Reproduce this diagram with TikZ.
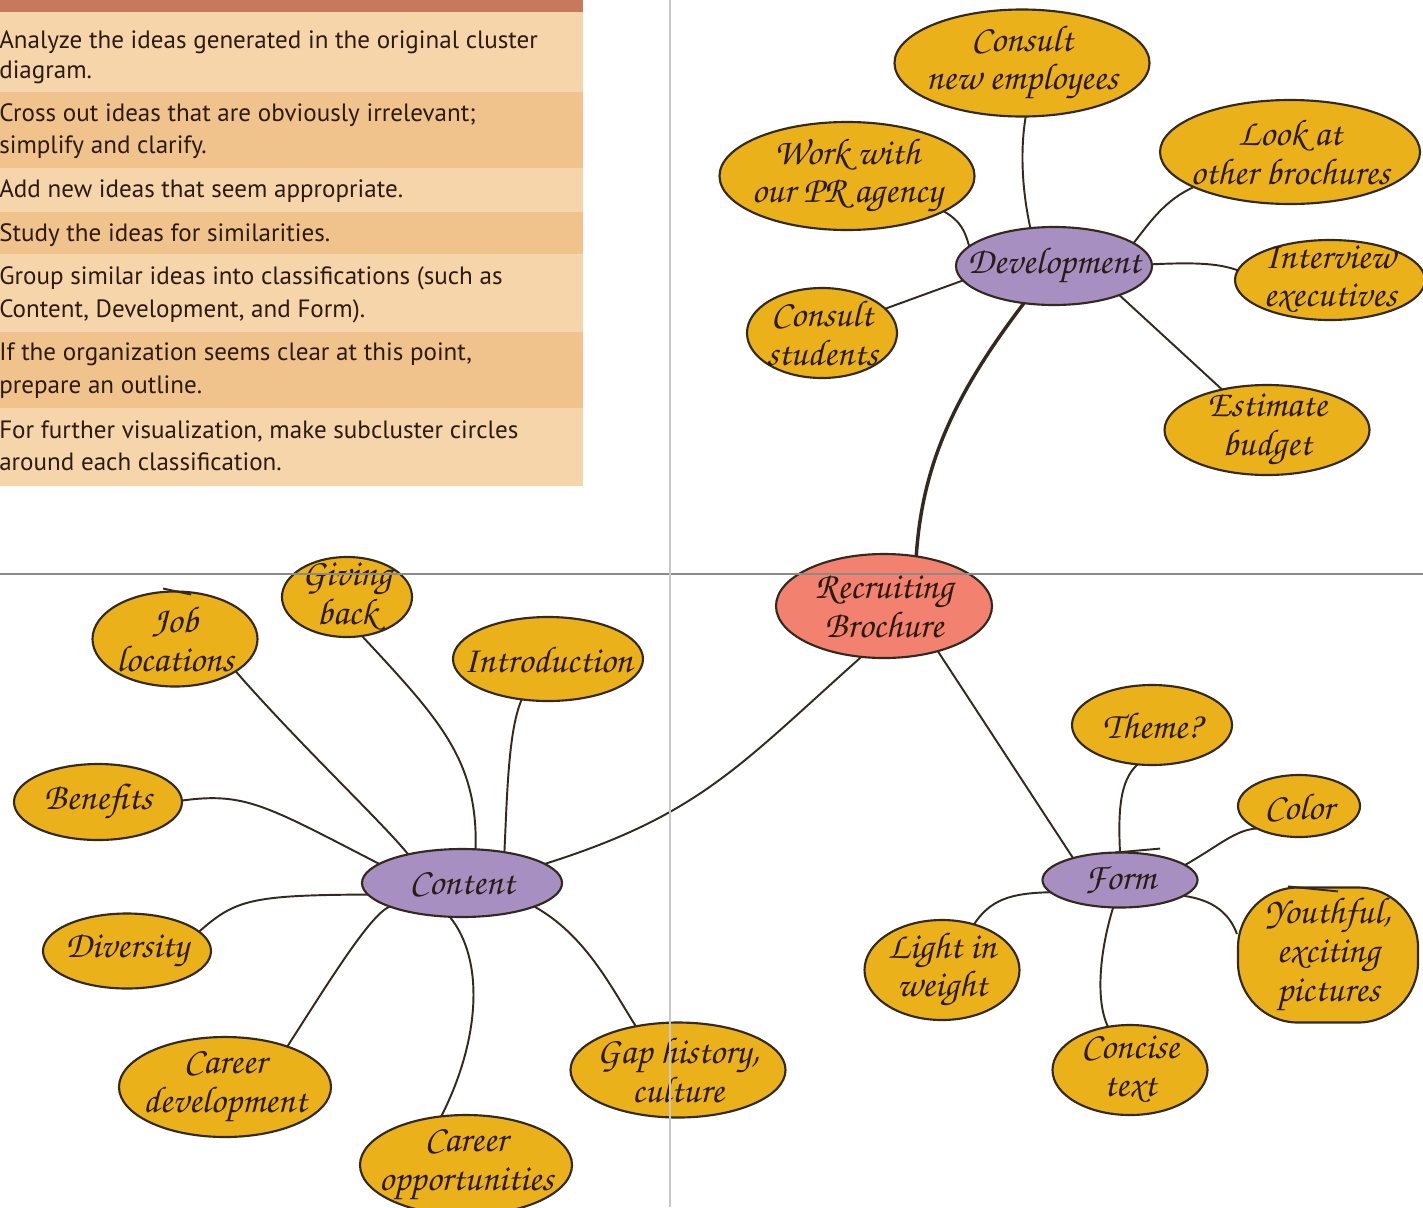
\documentclass[tikz,border=0pt]{standalone}
\usepackage[T1]{fontenc}
\usepackage{fontspec}
\newfontfamily\tabfont{PT Sans}
\newcommand\handfont{\fontencoding{T1}\fontfamily{pzc}\fontseries{mb}\fontshape{it}\selectfont}
\usetikzlibrary{shapes.geometric}
\definecolor{leafc}{HTML}{EBB11A}
\definecolor{catc}{HTML}{A78FC2}
\definecolor{rootc}{HTML}{F2826F}
\definecolor{edgec}{HTML}{33291F}
\definecolor{ink}{HTML}{2B1B12}
\definecolor{barc}{HTML}{C6795D}
\definecolor{rowA}{HTML}{F7D5AA}
\definecolor{rowB}{HTML}{F0C28C}
\definecolor{hrule}{HTML}{8A8A8A}
\definecolor{vrule}{HTML}{C8C8C8}
\pgfdeclarelayer{bg}
\pgfsetlayers{bg,main}
\tikzset{
  sz/.style 2 args={minimum width=#1*0.75pt, minimum height=#2*0.75pt},
  blob/.style={ellipse, draw=edgec, line width=1.6pt, inner sep=0pt, outer sep=0pt},
  leaf/.style={blob, fill=leafc},
  cat/.style={blob, fill=catc},
  root/.style={blob, fill=rootc},
  hand/.style={font=\handfont\fontsize{28}{29}\selectfont, text=ink, align=center, inner sep=0pt},
  link/.style={draw=edgec, line width=1.45pt},
  tabtxt/.style={font=\tabfont\fontsize{18.8}{22}\selectfont, text=ink, anchor=mid west, inner sep=0pt}
}
\begin{document}
\begin{tikzpicture}[x=0.75pt,y=-0.75pt]
\useasboundingbox (0,0) rectangle (1423,1207);
% ---- table ----
\fill[rowA] (0,12) rectangle (583,92);
\fill[rowB] (0,92) rectangle (583,168);
\fill[rowA] (0,168) rectangle (583,212);
\fill[rowB] (0,212) rectangle (583,254);
\fill[rowA] (0,254) rectangle (583,332);
\fill[rowB] (0,332) rectangle (583,408);
\fill[rowA] (0,408) rectangle (583,486);
\fill[barc] (0,0) rectangle (583,12);
\node[tabtxt] (t1a) at (-1,46) {Analyze the ideas generated in the original cluster};
\node[tabtxt] (t1b) at (-1,76) {diagram.};
\node[tabtxt] (t2a) at (-1,119) {Cross out ideas that are obviously irrelevant;};
\node[tabtxt] (t2b) at (-1,151) {simplify and clarify.};
\node[tabtxt] (t3) at (-1,195) {Add new ideas that seem appropriate.};
\node[tabtxt] (t4) at (-1,239) {Study the ideas for similarities.};
\node[tabtxt] (t5a) at (-1,282) {Group similar ideas into classifications (such as};
\node[tabtxt] (t5b) at (-1,315) {Content, Development, and Form).};
\node[tabtxt] (t6a) at (-1,358) {If the organization seems clear at this point,};
\node[tabtxt] (t6b) at (-1,391) {prepare an outline.};
\node[tabtxt] (t7a) at (-1,436) {For further visualization, make subcluster circles};
\node[tabtxt] (t7b) at (-1,468) {around each classification.};
% ---- nodes ----
\node[root, sz={216}{104}, label={[hand]center:{Recruiting\\Brochure}}] (bro) at (884,606) {};
\node[cat, sz={196}{78}, label={[hand]center:{Development}}] (dev) at (1054,266) {};
\node[cat, sz={200}{68}, label={[hand]center:{Content}}] (con) at (462,883) {};
\node[cat, sz={155}{55}, label={[hand]center:{Form}}] (form) at (1120,880) {};
% development leaves
\node[leaf, sz={255}{107}, label={[hand]center:{Consult\\new employees}}] (emp) at (1022,63) {};
\node[leaf, sz={255}{108}, label={[hand]center:{Work with\\our PR agency}}] (pr) at (847,176) {};
\node[leaf, sz={260}{104}, label={[hand]center:{Look at\\other brochures}}] (look) at (1290,152) {};
\node[leaf, sz={190}{80}, label={[hand]center:{Interview\\executives}}] (intv) at (1330,280) {};
\node[leaf, sz={150}{90}, label={[hand]center:{Consult\\students}}] (stu) at (822,333) {};
\node[leaf, sz={205}{90}, label={[hand]center:{Estimate\\budget}}] (est) at (1267,430) {};
% content leaves
\node[leaf, sz={165}{95}, label={[hand]center:{Job\\locations}}] (job) at (175,639) {};
\node[leaf, sz={130}{80}, label={[hand]center:{Giving\\back}}] (giv) at (347,597) {};
\node[leaf, sz={190}{84}, label={[hand]center:{Introduction}}] (intro) at (548,659) {};
\node[leaf, sz={168}{76}, label={[hand]center:{Benefits}}] (ben) at (98,802) {};
\node[leaf, sz={168}{75}, label={[hand]center:{Diversity}}] (div) at (127,951) {};
\node[leaf, sz={212}{100}, label={[hand]center:{Career\\development}}] (cdev) at (225,1087) {};
\node[leaf, sz={212}{100}, label={[hand]center:{Career\\opportunities}}] (copp) at (466,1165) {};
\node[leaf, sz={215}{95}, label={[hand]center:{Gap history,\\culture}}] (gap) at (678,1070) {};
% form leaves
\node[leaf, sz={160}{80}, label={[hand]center:{Theme?}}] (theme) at (1152,725) {};
\node[leaf, sz={122}{62}, label={[hand]center:{Color}}] (color) at (1299,806) {};
\node[draw=edgec, fill=leafc, line width=1.6pt, rounded corners=45pt, minimum width=180*0.75pt, minimum height=135*0.75pt, inner sep=0pt, label={[hand]center:{Youthful,\\exciting\\pictures}}] (you) at (1328,955) {};
\node[leaf, sz={155}{90}, label={[hand]center:{Concise\\text}}] (conc) at (1130,1070) {};
\node[leaf, sz={155}{100}, label={[hand]center:{Light in\\weight}}] (light) at (942,970) {};
% ---- connectors ----
\begin{pgfonlayer}{bg}
\draw[draw=edgec, line width=2.6pt] (bro.57) .. controls (922,470) and (950,400) .. (dev.-129);
\draw[link] (bro.-114) .. controls (740,765) and (700,815) .. (con.13);
\draw[link] (bro.-40) -- (form.155);
\draw[link] (dev.122) .. controls (1022,190) and (1020,150) .. (emp.-86);
\draw[link] (dev.167) .. controls (965,232) and (962,222) .. (pr.-20);
\draw[link] (dev.16) .. controls (1150,222) and (1165,200) .. (look.-160);
\draw[link] (dev.1) .. controls (1200,262) and (1220,264) .. (intv.174);
\draw[link] (dev.-171) -- (stu.21);
\draw[link] (dev.-24) -- (est.138);
\draw[link] (con.152) .. controls (385,825) and (300,745) .. (job.-28);
\draw[link] (con.68) .. controls (478,760) and (440,720) .. (giv.-69);
\draw[link] (con.36) .. controls (507,800) and (508,730) .. (intro.-123);
\draw[link] (con.167) .. controls (265,805) and (245,792) .. (ben.1);
\draw[link] (con.-173) .. controls (250,895) and (235,900) .. (div.15);
\draw[link] (con.-162) .. controls (370,915) and (330,980) .. (cdev.33);
\draw[link] (con.-110) .. controls (485,960) and (480,1040) .. (copp.117);
\draw[link] (con.-18) .. controls (585,935) and (610,985) .. (gap.134);
\draw[link] (form.90) .. controls (1118,810) and (1120,780) .. (theme.-110);
\draw[link] (form.13) .. controls (1220,845) and (1235,830) .. (color.-152);
\draw[link] (form.-14) .. controls (1215,900) and (1230,915) .. (you.167);
\draw[link] (form.-104) .. controls (1100,950) and (1095,1000) .. (conc.117);
\draw[link] (form.-170) .. controls (1010,893) and (990,900) .. (light.55);
\end{pgfonlayer}
% small pen strokes
\draw[link] (form.100) -- ++(45,-4);
\draw[link] (you.north) ++(-40,0) -- ++(50,5);
\draw[link] (job.north) ++(-12,-3) -- ++(28,6);
% ---- page rules ----
\draw[hrule, line width=0.8pt] (0,574) -- (1423,574);
\draw[vrule, line width=0.8pt] (670,0) -- (670,1207);
\end{tikzpicture}
\end{document}
